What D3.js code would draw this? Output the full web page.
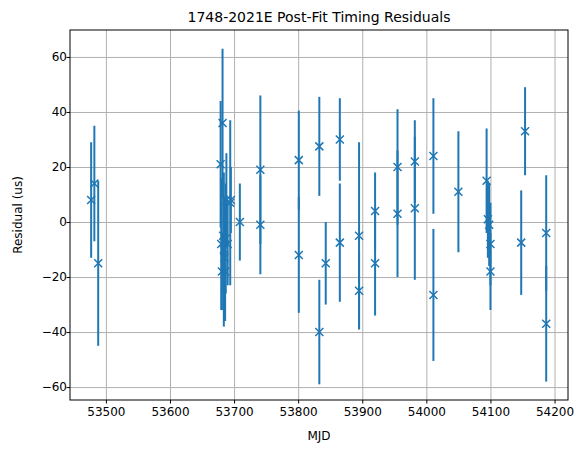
<!DOCTYPE html><html><head><meta charset="utf-8"><script src="https://cdn.jsdelivr.net/npm/d3@7"></script>
<style>body{margin:0;background:#fff}text{font-family:"DejaVu Sans",sans-serif}</style></head><body><script>
const mjd=[53477,53482,53488,53679,53680,53681,53682,53683,53684,53685,53686,53687,53688,53690,53694,53695,53709,53741,53741,53801,53801,53833,53833,53843,53865,53865,53895,53895,53920,53920,53955,53955,53982,53982,54011,54011,54050,54094,54096,54098,54100,54100,54148,54154,54187,54187];
const resid=[8,14,-15,21,-8,-18,36,-5,-10,-13,-18,-6,8,-8,7,8,0,19,-1,22.5,-12,27.5,-40,-15,30,-7.5,-5,-25,4,-15,20,3,22,5,24,-26.5,11,15,1,-1,-8,-18,-7.5,33,-4,-37];
const errs=[21,21,30,23,24,14,27,20,28,22,18,20,17,15,30,12,14,27,18,18,21,18,19,15,15,21.5,34,14,14,19,21,23,15,26,21,24,22,19,14,15,15,14,19,16,21,21];
const yTicks=[-60,-40,-20,0,20,40,60];
const W=583,H=453,m={l:70,r:15,t:30,b:53};
const svg=d3.select("body").append("svg").attr("width",W).attr("height",H);
const x=d3.scaleLinear().domain([53444,54221]).range([m.l,W-m.r]);
const y=d3.scaleLinear().domain([-64.7,69.8]).range([H-m.b,m.t]);
const g=svg.append("g");
const xa=g.append("g").attr("transform",`translate(0,${H-m.b})`).call(d3.axisBottom(x).tickValues(d3.range(53500,54201,100)).tickFormat(d3.format("d")).tickSize(-(H-m.t-m.b)))
 .call(a=>{a.selectAll(".tick line").attr("stroke","#b0b0b0");a.select(".domain").remove();});
xa.selectAll(".tick").append("line").attr("stroke","#000").attr("y2",3.5);
const ya=g.append("g").attr("transform",`translate(${m.l},0)`).call(d3.axisLeft(y).tickValues(yTicks).tickSize(-(W-m.l-m.r)))
 .call(a=>{a.selectAll(".tick line").attr("stroke","#b0b0b0");a.select(".domain").remove();});
ya.selectAll(".tick").append("line").attr("stroke","#000").attr("x2",-3.5);
g.selectAll(".tick text").attr("font-size",12).attr("fill","#000");
xa.selectAll(".tick text").attr("dy","1.1em");
svg.append("rect").attr("x",m.l).attr("y",m.t).attr("width",W-m.l-m.r).attr("height",H-m.t-m.b).attr("fill","none").attr("stroke","#000");
const c="#1f77b4";
mjd.forEach((d,i)=>{
 svg.append("line").attr("x1",x(d)).attr("x2",x(d)).attr("y1",y(resid[i]-errs[i])).attr("y2",y(resid[i]+errs[i])).attr("stroke",c).attr("stroke-width",2);
 const px=x(d),py=y(resid[i]),s=4;
 svg.append("path").attr("d",`M${px-s},${py-s}L${px+s},${py+s}M${px-s},${py+s}L${px+s},${py-s}`).attr("stroke",c).attr("stroke-width",1.5);
});
svg.append("text").attr("x",(m.l+W-m.r)/2).attr("y",22).attr("text-anchor","middle").attr("font-size",14).text("1748-2021E Post-Fit Timing Residuals");
svg.append("text").attr("x",(m.l+W-m.r)/2).attr("y",440).attr("text-anchor","middle").attr("font-size",12).text("MJD");
svg.append("text").attr("transform",`translate(22,${(m.t+H-m.b)/2}) rotate(-90)`).attr("text-anchor","middle").attr("font-size",12).text("Residual (us)");
</script></body></html>
